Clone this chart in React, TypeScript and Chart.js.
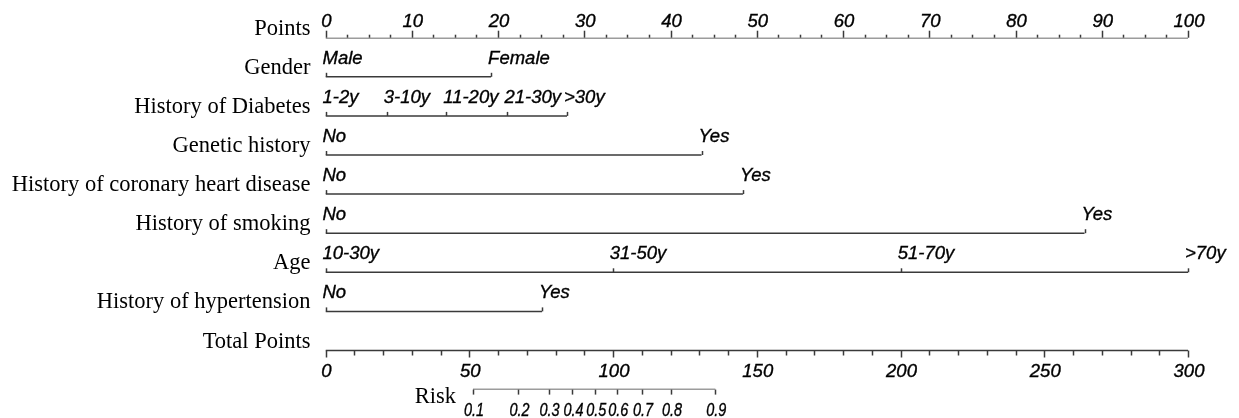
import React, { useEffect, useRef } from 'react';
import { Chart, registerables } from 'chart.js';

Chart.register(...registerables);

// ---- Data ----
const rowNames = [
  'Points',
  'Gender',
  'History of Diabetes',
  'Genetic history',
  'History of coronary heart disease',
  'History of smoking',
  'Age',
  'History of hypertension',
  'Total Points',
  'Risk',
];

const pointsTickValues = [0, 10, 20, 30, 40, 50, 60, 70, 80, 90, 100];
const pointsMinorStep = 2.5;

const genderLabels = ['Male', 'Female'];
const genderPoints = [0, 19.2];

const diabetesLabels = ['1-2y', '3-10y', '11-20y', '21-30y', '>30y'];
const diabetesPoints = [0, 7.1, 14.0, 21.1, 28.0];

const geneticLabels = ['No', 'Yes'];
const geneticPoints = [0, 43.6];

const coronaryLabels = ['No', 'Yes'];
const coronaryPoints = [0, 48.4];

const smokingLabels = ['No', 'Yes'];
const smokingPoints = [0, 88.0];

const ageLabels = ['10-30y', '31-50y', '51-70y', '>70y'];
const agePoints = [0, 33.3, 66.7, 100];

const hypertensionLabels = ['No', 'Yes'];
const hypertensionPoints = [0, 25.1];

const totalTickValues = [0, 50, 100, 150, 200, 250, 300];
const totalMinorStep = 10;

const riskLabels = ['0.1', '0.2', '0.3', '0.4', '0.5', '0.6', '0.7', '0.8', '0.9'];
const riskTotalPoints = [51.3, 67.1, 77.6, 85.9, 93.8, 101.5, 110.1, 120.2, 135.6];

const variables = [
  { labels: genderLabels, points: genderPoints },
  { labels: diabetesLabels, points: diabetesPoints },
  { labels: geneticLabels, points: geneticPoints },
  { labels: coronaryLabels, points: coronaryPoints },
  { labels: smokingLabels, points: smokingPoints },
  { labels: ageLabels, points: agePoints },
  { labels: hypertensionLabels, points: hypertensionPoints },
];

const LINE = '#3a3a3a';
const TEXT = '#000000';
const NAME_FONT = '22.5px "Liberation Serif", "Times New Roman", serif';
const TICK_FONT = 'italic 18.5px "Liberation Sans", Arial, sans-serif';

const W = 1223;
const H = 410;

const nomogramPlugin = {
  id: 'nomogram',
  afterDatasetsDraw(chart: any) {
    const ctx = chart.ctx as CanvasRenderingContext2D;
    const xs = chart.scales.x;
    const xt = chart.scales.x2;
    const ys = chart.scales.y;
    ctx.save();
    ctx.strokeStyle = LINE;
    ctx.lineWidth = 1.5;
    ctx.fillStyle = TEXT;

    const tick = (px: number, py: number, len: number) => {
      ctx.beginPath();
      ctx.moveTo(Math.round(px) + 0.5, py);
      ctx.lineTo(Math.round(px) + 0.5, py + len);
      ctx.stroke();
    };
    const label = (txt: string, px: number, py: number, sx = 1) => {
      ctx.save();
      ctx.translate(px, py);
      ctx.scale(sx, 1);
      ctx.fillText(txt, 0, 0);
      ctx.lineWidth = 0.35;
      ctx.strokeStyle = TEXT;
      ctx.strokeText(txt, 0, 0);
      ctx.restore();
    };

    // row names
    ctx.font = NAME_FONT;
    ctx.textAlign = 'right';
    ctx.textBaseline = 'alphabetic';
    const nameX = xs.getPixelForValue(0) - 15;
    rowNames.forEach((name, i) => {
      const py = ys.getPixelForValue(i);
      if (name === 'Risk') {
        ctx.fillText(name, xt.getPixelForValue(riskTotalPoints[0]) - 17, py + 13);
      } else {
        ctx.fillText(name, nameX, py - 3);
      }
    });

    // Points axis
    ctx.font = TICK_FONT;
    const y0 = ys.getPixelForValue(0);
    const pMin = pointsTickValues[0];
    const pMax = pointsTickValues[pointsTickValues.length - 1];
    for (let v = pMin; v <= pMax + 1e-9; v += pointsMinorStep) {
      const major = pointsTickValues.includes(v);
      tick(xs.getPixelForValue(v), y0, major ? -7 : -3);
    }
    ctx.textAlign = 'center';
    pointsTickValues.forEach((v) => {
      label(String(v), xs.getPixelForValue(v) + 1, y0 - 11);
    });

    // variable rows
    ctx.textAlign = 'left';
    variables.forEach((vr, k) => {
      const py = ys.getPixelForValue(k + 1);
      vr.points.forEach((p, j) => {
        const px = xs.getPixelForValue(p);
        tick(px, py, -4);
        label(vr.labels[j], px - 3, py - 13);
      });
    });

    // Total points
    const yt = ys.getPixelForValue(8);
    const tMin = totalTickValues[0];
    const tMax = totalTickValues[totalTickValues.length - 1];
    for (let v = tMin; v <= tMax + 1e-9; v += totalMinorStep) {
      const major = totalTickValues.includes(v);
      tick(xt.getPixelForValue(v), yt, major ? 7 : 5);
    }
    ctx.textAlign = 'center';
    totalTickValues.forEach((v) => {
      label(String(v), xt.getPixelForValue(v) + 1, yt + 26);
    });

    // Risk
    const yr = ys.getPixelForValue(9);
    riskTotalPoints.forEach((tp, j) => {
      const px = xt.getPixelForValue(tp);
      tick(px, yr, 5);
      label(riskLabels[j], px + 1, yr + 26, 0.78);
    });
    ctx.restore();
  },
};

export default function App() {
  const ref = useRef<HTMLCanvasElement | null>(null);

  useEffect(() => {
    if (!ref.current) return;
    document.body.style.overflow = 'hidden';
    const lineDs = (from: number, to: number, row: number, axis: string) => ({
      type: 'line' as const,
      data: [
        { x: from, y: row },
        { x: to, y: row },
      ],
      xAxisID: axis,
      yAxisID: 'y',
      borderColor: LINE,
      borderWidth: 1.5,
      pointRadius: 0,
      fill: false,
    });
    const datasets: any[] = [];
    datasets.push(lineDs(pointsTickValues[0], pointsTickValues[pointsTickValues.length - 1], 0, 'x'));
    variables.forEach((vr, k) => {
      datasets.push(lineDs(vr.points[0], vr.points[vr.points.length - 1], k + 1, 'x'));
    });
    datasets.push(lineDs(totalTickValues[0], totalTickValues[totalTickValues.length - 1], 8, 'x2'));
    datasets.push(lineDs(riskTotalPoints[0], riskTotalPoints[riskTotalPoints.length - 1], 9, 'x2'));

    const chart = new Chart(ref.current, {
      type: 'scatter',
      data: { datasets },
      options: {
        animation: false,
        responsive: false,
        devicePixelRatio: 1,
        layout: { padding: { left: 317.5, right: W - 1180, top: 29.7, bottom: H - 381.6 } },
        plugins: { legend: { display: false }, tooltip: { enabled: false } },
        scales: {
          x: { type: 'linear', min: 0, max: 100, display: false },
          x2: { type: 'linear', min: 0, max: 300, display: false },
          y: { type: 'linear', min: 0, max: 9, reverse: true, display: false },
        },
      },
      plugins: [nomogramPlugin],
    });
    return () => chart.destroy();
  }, []);

  return (
    <div style={{ width: W, height: H, position: 'relative' }}>
      <canvas ref={ref} width={W} height={H} style={{ display: 'block', width: W, height: H }} />
    </div>
  );
}
